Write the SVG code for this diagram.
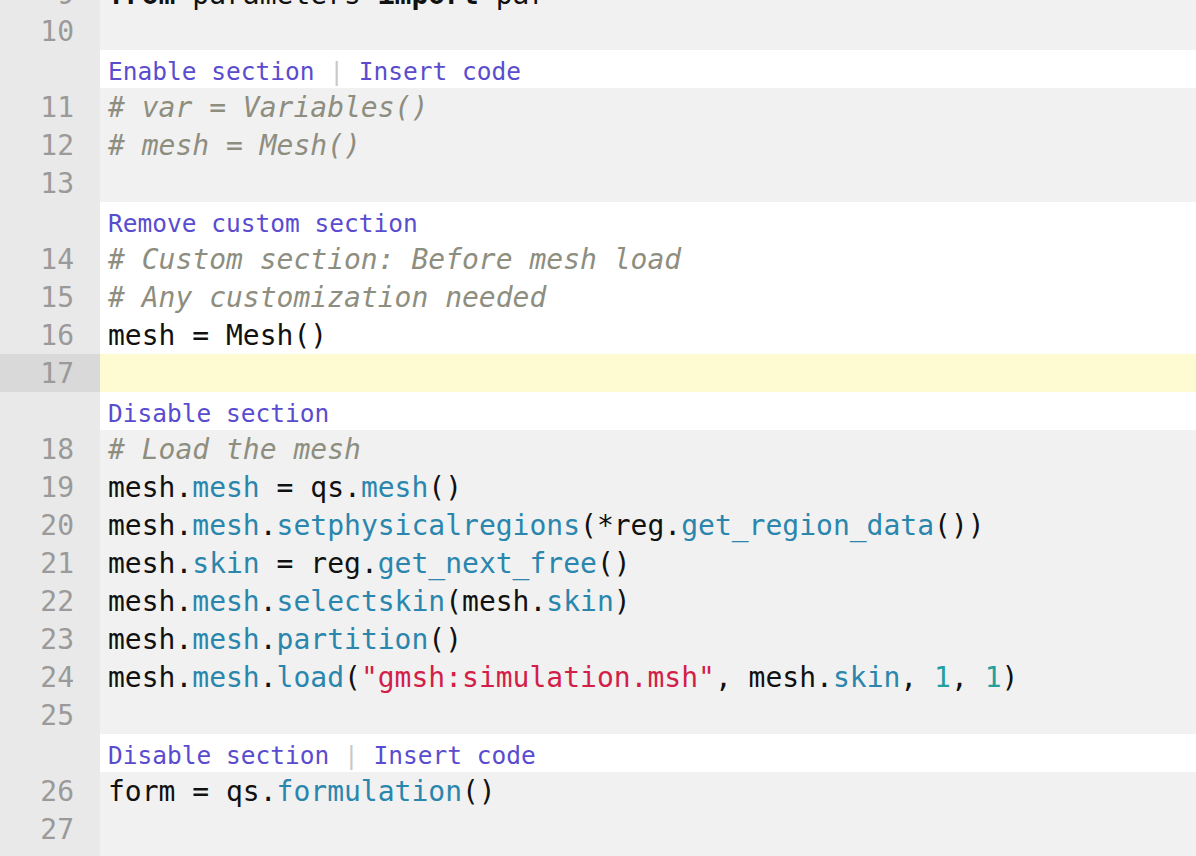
<svg xmlns="http://www.w3.org/2000/svg" width="1196" height="856" viewBox="0 0 1196 856">
<style>
.c{font-family:"DejaVu Sans Mono",monospace;font-size:28px;fill:#111}
.n{font-family:"DejaVu Sans Mono",monospace;font-size:28px;fill:#9a9a9a;text-anchor:end}
.h{font-family:"DejaVu Sans Mono",monospace;font-size:24.5px;fill:#5a4ccf}
.cm{fill:#8e8e80;font-style:italic}
.a{fill:#2a86ad}
.s{fill:#d21f49}
.num{fill:#22a0a0}
.k{font-weight:bold}
.sep{fill:#c8c8c8}
</style>
<rect width="1196" height="856" fill="#f1f1f1"/>
<rect width="100" height="856" fill="#e9e9e9"/>
<g id="headers">
<rect x="100" y="50" width="1096" height="38" fill="#fff"/>
<rect x="100" y="202" width="1096" height="38" fill="#fff"/>
<rect x="100" y="240" width="1096" height="114" fill="#fff"/>
<rect x="100" y="392" width="1096" height="38" fill="#fff"/>
<rect x="100" y="734" width="1096" height="38" fill="#fff"/>
<rect x="0" y="354" width="100" height="38" fill="#d9d9d9"/>
<rect x="100" y="354" width="1096" height="38" fill="#fefbd2"/>
</g>
<g id="gutter">
<text class="n" x="74" y="4">9</text>
<text class="n" x="74" y="41">10</text>
<text class="n" x="74" y="117">11</text>
<text class="n" x="74" y="155">12</text>
<text class="n" x="74" y="193">13</text>
<text class="n" x="74" y="269">14</text>
<text class="n" x="74" y="307">15</text>
<text class="n" x="74" y="345">16</text>
<text class="n" x="74" y="383">17</text>
<text class="n" x="74" y="459">18</text>
<text class="n" x="74" y="497">19</text>
<text class="n" x="74" y="535">20</text>
<text class="n" x="74" y="573">21</text>
<text class="n" x="74" y="611">22</text>
<text class="n" x="74" y="649">23</text>
<text class="n" x="74" y="687">24</text>
<text class="n" x="74" y="725">25</text>
<text class="n" x="74" y="801">26</text>
<text class="n" x="74" y="839">27</text>
</g>
<g id="section-links">
<text class="h" x="108" y="80">Enable section <tspan class="sep">|</tspan> Insert code</text>
<text class="h" x="108" y="232">Remove custom section</text>
<text class="h" x="108" y="422">Disable section</text>
<text class="h" x="108" y="764">Disable section <tspan class="sep">|</tspan> Insert code</text>
</g>
<g id="code">
<text class="c" x="108" y="4"><tspan class="k">from</tspan> parameters <tspan class="k">import</tspan> par</text>
<text class="c cm" x="108" y="117"># var = Variables()</text>
<text class="c cm" x="108" y="155"># mesh = Mesh()</text>
<text class="c cm" x="108" y="269"># Custom section: Before mesh load</text>
<text class="c cm" x="108" y="307"># Any customization needed</text>
<text class="c" x="108" y="345">mesh = Mesh()</text>
<text class="c cm" x="108" y="459"># Load the mesh</text>
<text class="c" x="108" y="497">mesh.<tspan class="a">mesh</tspan> = qs.<tspan class="a">mesh</tspan>()</text>
<text class="c" x="108" y="535">mesh.<tspan class="a">mesh</tspan>.<tspan class="a">setphysicalregions</tspan>(*reg.<tspan class="a">get_region_data</tspan>())</text>
<text class="c" x="108" y="573">mesh.<tspan class="a">skin</tspan> = reg.<tspan class="a">get_next_free</tspan>()</text>
<text class="c" x="108" y="611">mesh.<tspan class="a">mesh</tspan>.<tspan class="a">selectskin</tspan>(mesh.<tspan class="a">skin</tspan>)</text>
<text class="c" x="108" y="649">mesh.<tspan class="a">mesh</tspan>.<tspan class="a">partition</tspan>()</text>
<text class="c" x="108" y="687">mesh.<tspan class="a">mesh</tspan>.<tspan class="a">load</tspan>(<tspan class="s">"gmsh:simulation.msh"</tspan>, mesh.<tspan class="a">skin</tspan>, <tspan class="num">1</tspan>, <tspan class="num">1</tspan>)</text>
<text class="c" x="108" y="801">form = qs.<tspan class="a">formulation</tspan>()</text>
</g>
</svg>
